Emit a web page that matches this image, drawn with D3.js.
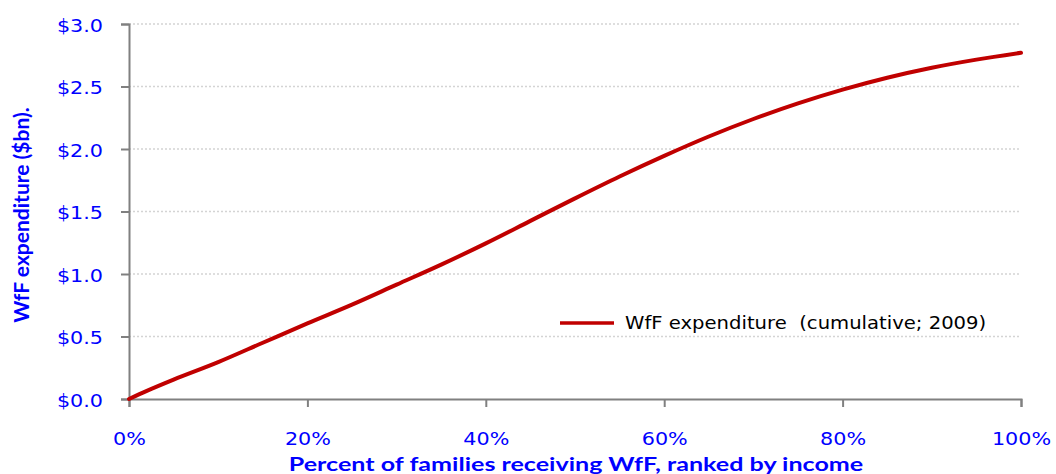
<!DOCTYPE html>
<html>
<head>
<meta charset="utf-8">
<script src="https://cdn.jsdelivr.net/npm/d3@7"></script>
<style>
  body { margin: 0; background: #fff; }
  .tick text { font-family: "DejaVu Sans", sans-serif; }
</style>
</head>
<body>
<div id="chart"></div>
<script>
var width = 1056, height = 474;

/* Data: cumulative WfF spend by percentile of families */
var pctFamilies = [0, 2, 5, 10, 15, 20, 25, 30, 35, 40, 45, 50, 55, 60, 65, 70, 75, 80, 85, 90, 95, 100];
var spendBn     = [0, 0.065, 0.155, 0.295, 0.45, 0.605, 0.755, 0.915, 1.075, 1.245, 1.425, 1.605, 1.78, 1.945, 2.10, 2.24, 2.365, 2.475, 2.57, 2.65, 2.715, 2.77];
var yTicks = [0, 0.5, 1.0, 1.5, 2.0, 2.5, 3.0];
var xTicks = [0, 20, 40, 60, 80, 100];
var seriesName = "WfF expenditure  (cumulative; 2009)";

var blue = "#0000ff", axisGrey = "#808080", red = "#c00000";
var stretch = 1.15;

var svg = d3.select("#chart").append("svg")
    .attr("width", width)
    .attr("height", height);

var x = d3.scaleLinear().domain([0, 100]).range([129, 1021]);
var y = d3.scaleLinear().domain([0, 3]).range([399, 24]);

/* gridlines */
svg.append("g")
    .selectAll("line")
    .data(yTicks.filter(function (d) { return d > 0; }))
    .join("line")
    .attr("x1", x(0)).attr("x2", x(100))
    .attr("y1", function (d) { return y(d); })
    .attr("y2", function (d) { return y(d); })
    .attr("stroke", "#d4d4d4")
    .attr("stroke-width", 1.5)
    .attr("stroke-dasharray", "2,2");

/* y axis */
var yAxis = svg.append("g")
    .attr("transform", "translate(" + x(0) + ",0)")
    .call(d3.axisLeft(y).tickValues(yTicks).tickSize(8).tickPadding(0)
        .tickFormat(function (d) { return "$" + d3.format(".1f")(d); }));

/* x axis */
var xAxis = svg.append("g")
    .attr("transform", "translate(0," + y(0) + ")")
    .call(d3.axisBottom(x).tickValues(xTicks).tickSize(8).tickPadding(0)
        .tickFormat(function (d) { return d + "%"; }));

[yAxis, xAxis].forEach(function (g) {
    g.select(".domain").attr("stroke", axisGrey).attr("stroke-width", 2);
    g.selectAll(".tick line").attr("stroke", axisGrey).attr("stroke-width", 2);
    g.selectAll(".tick text").attr("fill", blue).attr("font-size", 18);
});

yAxis.selectAll(".tick text")
    .attr("x", null).attr("dy", null)
    .attr("transform", "translate(-26,7) scale(" + stretch + ",1)");

xAxis.selectAll(".tick text")
    .attr("y", null).attr("dy", null)
    .attr("transform", "translate(0,46) scale(" + stretch + ",1)");

/* the curve */
var line = d3.line()
    .x(function (d, i) { return x(pctFamilies[i]); })
    .y(function (d) { return y(d); })
    .curve(d3.curveMonotoneX);

svg.append("path")
    .datum(spendBn)
    .attr("d", line)
    .attr("fill", "none")
    .attr("stroke", red)
    .attr("stroke-width", 4)
    .attr("stroke-linecap", "round");

/* legend */
var legend = svg.append("g").attr("transform", "translate(560,323)");
legend.append("line")
    .attr("x1", 0).attr("x2", 54)
    .attr("stroke", red).attr("stroke-width", 3.5);
legend.append("text")
    .attr("transform", "translate(65,6) scale(1.09,1)")
    .attr("font-family", "DejaVu Sans, sans-serif")
    .attr("font-size", 18)
    .attr("fill", "#000")
    .attr("xml:space", "preserve")
    .style("white-space", "pre")
    .text(seriesName);

/* axis titles */
svg.append("text")
    .attr("transform", "translate(29,215) rotate(-90)")
    .attr("text-anchor", "middle")
    .attr("font-family", "Lato, sans-serif")
    .attr("font-weight", "bold")
    .attr("font-size", 21)
    .attr("fill", blue)
    .text("WfF expenditure ($bn).");

svg.append("text")
    .attr("transform", "translate(576,471) scale(1.32,1)")
    .attr("text-anchor", "middle")
    .attr("font-family", "Lato, sans-serif")
    .attr("font-weight", "bold")
    .attr("font-size", 19)
    .attr("fill", blue)
    .text("Percent of families receiving WfF, ranked by income");
</script>
</body>
</html>
